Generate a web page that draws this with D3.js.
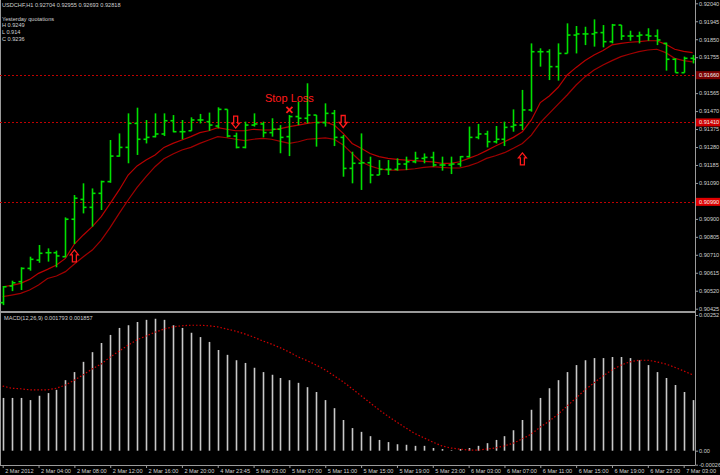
<!DOCTYPE html>
<html><head><meta charset="utf-8">
<script src="https://cdn.jsdelivr.net/npm/d3@7"></script>
<style>body{margin:0;background:#000}svg{display:block}text{font-family:"Liberation Sans",Arial,sans-serif}</style>
</head><body><svg id="c" width="720" height="475"></svg>
<script>
// ---- data (USDCHF H1) ----
const opens=[0.90457,0.90545,0.90568,0.90638,0.90682,0.90721,0.90721,0.90700,0.90898,0.91003,0.90961,0.91035,0.91097,0.91232,0.91278,0.91405,0.91321,0.91335,0.91349,0.91419,0.91361,0.91366,0.91423,0.91414,0.91391,0.91479,0.91338,0.91278,0.91396,0.91402,0.91356,0.91374,0.91335,0.91441,0.91432,0.91449,0.91409,0.91458,0.91331,0.91167,0.91194,0.91197,0.91132,0.91162,0.91162,0.91190,0.91202,0.91220,0.91225,0.91185,0.91185,0.91190,0.91229,0.91331,0.91349,0.91308,0.91321,0.91388,0.91396,0.91476,0.91784,0.91784,0.91705,0.91775,0.91872,0.91878,0.91878,0.91885,0.91837,0.91925,0.91867,0.91867,0.91872,0.91867,0.91828,0.91744,0.91673,0.91749];
const highs=[0.90545,0.90573,0.90644,0.90700,0.90762,0.90744,0.90732,0.90908,0.91026,0.91088,0.91061,0.91102,0.91317,0.91352,0.91458,0.91488,0.91423,0.91458,0.91458,0.91449,0.91423,0.91437,0.91455,0.91462,0.91490,0.91479,0.91356,0.91414,0.91458,0.91414,0.91432,0.91396,0.91449,0.91520,0.91617,0.91449,0.91511,0.91476,0.91344,0.91255,0.91352,0.91229,0.91211,0.91211,0.91220,0.91229,0.91255,0.91246,0.91255,0.91229,0.91229,0.91232,0.91388,0.91402,0.91366,0.91391,0.91414,0.91479,0.91582,0.91828,0.91802,0.91797,0.91828,0.91934,0.91920,0.91916,0.91955,0.91925,0.91931,0.91925,0.91895,0.91890,0.91908,0.91902,0.91832,0.91749,0.91758,0.91767];
const lows=[0.90444,0.90518,0.90524,0.90626,0.90668,0.90674,0.90644,0.90697,0.90767,0.90929,0.90859,0.90947,0.91091,0.91229,0.91194,0.91238,0.91299,0.91331,0.91338,0.91358,0.91321,0.91366,0.91405,0.91366,0.91379,0.91331,0.91273,0.91273,0.91388,0.91331,0.91335,0.91247,0.91232,0.91396,0.91405,0.91282,0.91388,0.91285,0.91123,0.91088,0.91053,0.91088,0.91132,0.91132,0.91155,0.91158,0.91194,0.91194,0.91176,0.91155,0.91137,0.91176,0.91225,0.91321,0.91278,0.91299,0.91285,0.91361,0.91370,0.91467,0.91705,0.91634,0.91631,0.91775,0.91775,0.91819,0.91811,0.91807,0.91828,0.91846,0.91842,0.91828,0.91842,0.91819,0.91684,0.91673,0.91673,0.91722];
const closes=[0.90541,0.90562,0.90638,0.90686,0.90718,0.90721,0.90704,0.90898,0.91009,0.90961,0.91035,0.91097,0.91232,0.91278,0.91405,0.91321,0.91331,0.91349,0.91419,0.91361,0.91361,0.91423,0.91423,0.91396,0.91479,0.91338,0.91278,0.91396,0.91402,0.91356,0.91374,0.91331,0.91441,0.91432,0.91449,0.91409,0.91458,0.91331,0.91167,0.91194,0.91197,0.91132,0.91162,0.91162,0.91190,0.91202,0.91220,0.91225,0.91185,0.91185,0.91190,0.91229,0.91331,0.91349,0.91308,0.91321,0.91384,0.91396,0.91476,0.91784,0.91784,0.91705,0.91775,0.91872,0.91878,0.91878,0.91885,0.91837,0.91925,0.91867,0.91867,0.91872,0.91867,0.91846,0.91744,0.91673,0.91749,0.91744];
const maUpper=[0.90541,0.90548,0.90559,0.90580,0.90612,0.90633,0.90656,0.90691,0.90767,0.90815,0.90859,0.90912,0.90982,0.91053,0.91132,0.91180,0.91211,0.91238,0.91278,0.91299,0.91317,0.91335,0.91356,0.91366,0.91382,0.91374,0.91366,0.91366,0.91374,0.91370,0.91370,0.91377,0.91388,0.91396,0.91405,0.91411,0.91412,0.91396,0.91352,0.91299,0.91273,0.91246,0.91229,0.91220,0.91215,0.91211,0.91208,0.91204,0.91201,0.91194,0.91194,0.91202,0.91220,0.91238,0.91261,0.91285,0.91308,0.91331,0.91361,0.91423,0.91515,0.91550,0.91596,0.91661,0.91701,0.91737,0.91767,0.91790,0.91820,0.91828,0.91834,0.91837,0.91842,0.91842,0.91823,0.91797,0.91786,0.91779];
const maLower=[0.90489,0.90497,0.90506,0.90524,0.90550,0.90585,0.90598,0.90621,0.90661,0.90700,0.90735,0.90788,0.90855,0.90929,0.91000,0.91067,0.91123,0.91176,0.91218,0.91243,0.91264,0.91278,0.91299,0.91317,0.91335,0.91329,0.91321,0.91314,0.91321,0.91326,0.91321,0.91310,0.91299,0.91308,0.91321,0.91324,0.91328,0.91321,0.91291,0.91246,0.91202,0.91180,0.91165,0.91158,0.91158,0.91160,0.91165,0.91172,0.91176,0.91172,0.91169,0.91169,0.91180,0.91197,0.91220,0.91234,0.91250,0.91273,0.91299,0.91343,0.91409,0.91458,0.91507,0.91555,0.91608,0.91652,0.91687,0.91714,0.91737,0.91758,0.91772,0.91784,0.91793,0.91797,0.91779,0.91749,0.91737,0.91730];
const macdHist=[0.00098,0.00098,0.00098,0.00094,0.00102,0.00107,0.00113,0.00131,0.00146,0.00165,0.00183,0.00200,0.00215,0.00228,0.00233,0.00239,0.00243,0.00245,0.00243,0.00233,0.00228,0.00219,0.00211,0.00202,0.00187,0.00178,0.00168,0.00163,0.00154,0.00146,0.00141,0.00135,0.00131,0.00126,0.00118,0.00109,0.00094,0.00079,0.00057,0.00042,0.00035,0.00027,0.00020,0.00016,0.00012,0.00011,0.00009,0.00009,0.00005,0.00003,0.00001,0.00003,0.00005,0.00009,0.00014,0.00020,0.00027,0.00038,0.00057,0.00076,0.00098,0.00116,0.00131,0.00146,0.00159,0.00168,0.00172,0.00172,0.00174,0.00174,0.00172,0.00168,0.00159,0.00146,0.00135,0.00122,0.00109,0.00094];
const macdSignal=[0.00120,0.00116,0.00115,0.00113,0.00113,0.00113,0.00116,0.00122,0.00131,0.00141,0.00152,0.00161,0.00174,0.00185,0.00196,0.00206,0.00213,0.00220,0.00226,0.00230,0.00232,0.00233,0.00233,0.00232,0.00230,0.00226,0.00222,0.00217,0.00211,0.00204,0.00198,0.00191,0.00183,0.00174,0.00167,0.00159,0.00150,0.00139,0.00128,0.00115,0.00102,0.00089,0.00076,0.00064,0.00053,0.00042,0.00032,0.00024,0.00016,0.00009,0.00005,0.00003,0.00001,0.00001,0.00003,0.00005,0.00009,0.00014,0.00022,0.00031,0.00044,0.00055,0.00068,0.00083,0.00098,0.00113,0.00126,0.00139,0.00150,0.00159,0.00165,0.00168,0.00168,0.00165,0.00161,0.00155,0.00148,0.00141];
const priceTicks=[0.92040,0.91945,0.91850,0.91755,0.91565,0.91470,0.91375,0.91280,0.91185,0.91090,0.90900,0.90805,0.90710,0.90615,0.90520,0.90425];
const macdTicks=[0.00252,0.00000,-0.00026];
const macdTickLabels=["0.00252","0.00","-0.00026"];
const timeLabels=["2 Mar 2012","2 Mar 04:00","2 Mar 08:00","2 Mar 12:00","2 Mar 16:00","2 Mar 20:00","4 Mar 23:45","5 Mar 03:00","5 Mar 07:00","5 Mar 11:00","5 Mar 15:00","5 Mar 19:00","5 Mar 23:00","6 Mar 03:00","6 Mar 07:00","6 Mar 11:00","6 Mar 15:00","6 Mar 19:00","6 Mar 23:00","7 Mar 03:00"];
const levels=[0.91660,0.91410,0.90990];
const levelLabels=["0.91660","0.91410","0.90990"];
const levelColors=["#7a0000","#d00000","#e00000"];
const arrowBars=[8,26,38,58];
const arrowPrices=[0.90704,0.91412,0.91415,0.91217];
const arrowDirs=["up","down","down","up"];
const stopBar=32, stopPrice=0.91476, stopTextPrice=0.91520;
const headerLines=["USDCHF,H1  0.92704 0.92955 0.92693 0.92818","","Yesterday quotations","H 0.9249","L 0.914","C 0.9236"];
const macdTitle="MACD(12,26,9) 0.001793 0.001857";

// ---- drawing ----
const svg=d3.select("#c");
const W=720,H=475, plotR=695;
const n=opens.length;
const idx=d3.range(n);
const x=d3.scaleLinear().domain([0,77]).range([2.7,2.7+77*8.96]);
const yP=d3.scaleLinear().domain([0.90425,0.92040]).range([308.7,3.3]);
const yM=d3.scaleLinear().domain([-0.00026,0.00252]).range([464.7,315]);
const grid="#9a9a9a", txt="#d0d0d0";

svg.append("rect").attr("width",W).attr("height",H).attr("fill","#000");

// frame
const fr=svg.append("g").attr("stroke",grid).attr("stroke-width",1).attr("shape-rendering","crispEdges");
fr.append("line").attr("x1",0.5).attr("x2",0.5).attr("y1",0).attr("y2",465);
fr.append("line").attr("x1",0).attr("x2",plotR).attr("y1",311.5).attr("y2",311.5).attr("stroke-width",2);
fr.append("line").attr("x1",0).attr("x2",plotR).attr("y1",465.5).attr("y2",465.5);

// level lines
const mainClip=svg.append("defs").append("clipPath").attr("id","mc").append("rect").attr("x",0).attr("y",0).attr("width",plotR).attr("height",310);
svg.append("g").selectAll("line").data(levels).join("line")
 .attr("x1",0).attr("x2",plotR).attr("y1",d=>Math.round(yP(d))+0.5).attr("y2",d=>Math.round(yP(d))+0.5)
 .attr("stroke","#c00000").attr("stroke-dasharray","2,2").attr("stroke-width",1);

// moving averages
const g=svg.append("g").attr("clip-path","url(#mc)");
g.append("path").datum(maLower).attr("fill","none").attr("stroke","#a00000").attr("stroke-width",1.2)
 .attr("d",d3.line().x((d,i)=>x(i)).y(d=>yP(d)));
g.append("path").datum(maUpper).attr("fill","none").attr("stroke","#b80000").attr("stroke-width",1.2)
 .attr("d",d3.line().x((d,i)=>x(i)).y(d=>yP(d)));

// OHLC bars
const bars=g.append("g").attr("stroke","#00e000").attr("stroke-width",1.6);
idx.forEach(i=>{
  const cx=Math.round(x(i))+0.5;
  bars.append("line").attr("x1",cx).attr("x2",cx).attr("y1",yP(highs[i])).attr("y2",yP(lows[i]));
  bars.append("line").attr("x1",cx-3).attr("x2",cx).attr("y1",yP(opens[i])).attr("y2",yP(opens[i]));
  bars.append("line").attr("x1",cx).attr("x2",cx+3).attr("y1",yP(closes[i])).attr("y2",yP(closes[i]));
});

// arrows
idx.slice(0,arrowBars.length).forEach(k=>{
  const cx=x(arrowBars[k]), cy=yP(arrowPrices[k]);
  const s=arrowDirs[k]==="up"?1:-1;
  const pts=[[0,-6],[4,-1],[2,-1],[2,6],[-2,6],[-2,-1],[-4,-1]].map(p=>[cx+p[0],cy+p[1]*s]);
  svg.append("path").attr("d","M"+pts.map(p=>p.join(",")).join("L")+"Z")
    .attr("fill","none").attr("stroke","#ff1a1a").attr("stroke-width",1.3);
});

// stop loss
const sx=x(stopBar), sy=yP(stopPrice);
svg.append("path").attr("d",`M${sx-3},${sy-3}L${sx+3},${sy+3}M${sx+3},${sy-3}L${sx-3},${sy+3}`).attr("stroke","#ff1a1a").attr("stroke-width",1.8);
svg.append("text").attr("x",sx).attr("y",yP(stopTextPrice)).attr("text-anchor","middle").attr("fill","#ff1a1a")
  .attr("font-size",11).text("Stop Loss");

// MACD histogram
const mg=svg.append("g").attr("stroke","#c8c8c8").attr("stroke-width",1.6);
idx.forEach(i=>{
  const cx=Math.round(x(i))+0.5;
  mg.append("line").attr("x1",cx).attr("x2",cx).attr("y1",yM(0)).attr("y2",yM(macdHist[i]));
});
svg.append("path").datum(macdSignal).attr("fill","none").attr("stroke","#d00000").attr("stroke-width",1.2)
 .attr("stroke-dasharray","1.5,2").attr("d",d3.line().x((d,i)=>x(i)).y(d=>yM(d)));

// right axis price
const ax=svg.append("g").attr("transform",`translate(${plotR},0)`)
 .call(d3.axisRight(yP).tickValues(priceTicks).tickSize(3).tickFormat(d3.format(".5f")));
ax.select(".domain").attr("stroke",grid).attr("d","M0.5,0V465");
ax.selectAll(".tick line").attr("stroke",grid);
ax.selectAll(".tick text").attr("fill",txt).attr("font-size",5.6).attr("x",4).style("font-family","'Liberation Sans',Arial");
// MACD axis
const am=svg.append("g").attr("transform",`translate(${plotR},0)`)
 .call(d3.axisRight(yM).tickValues(macdTicks).tickSize(3).tickFormat((d,i)=>macdTickLabels[i]));
am.select(".domain").remove();
am.selectAll(".tick line").attr("stroke",grid);
am.selectAll(".tick text").attr("fill",txt).attr("font-size",5.6).attr("x",4).style("font-family","'Liberation Sans',Arial");

// level labels on axis
levels.forEach((v,k)=>{
  const yy=yP(v);
  svg.append("rect").attr("x",plotR+1).attr("y",yy-4).attr("width",W-plotR).attr("height",8).attr("fill",levelColors[k]);
  svg.append("text").attr("x",plotR+4).attr("y",yy+2).attr("fill","#f0f0f0").attr("font-size",5.6).text(levelLabels[k]);
});

// time axis
const at=svg.append("g").attr("transform","translate(0,465)")
 .call(d3.axisBottom(x).tickValues(d3.range(0,77,4)).tickSize(3).tickFormat(d=>timeLabels[d/4]));
at.select(".domain").remove();
at.selectAll(".tick line").attr("stroke",grid);
at.selectAll(".tick text").attr("fill",txt).attr("font-size",5.6).attr("text-anchor","start").attr("dx",2).attr("y",4.5).style("font-family","'Liberation Sans',Arial");

// header texts
headerLines.forEach((t,k)=>{
  svg.append("text").attr("x",2).attr("y",7+k*6.8).attr("fill",txt).attr("font-size",5.6).text(t);
});
svg.append("text").attr("x",4).attr("y",320).attr("fill",txt).attr("font-size",5.6).text(macdTitle);
</script></body></html>
